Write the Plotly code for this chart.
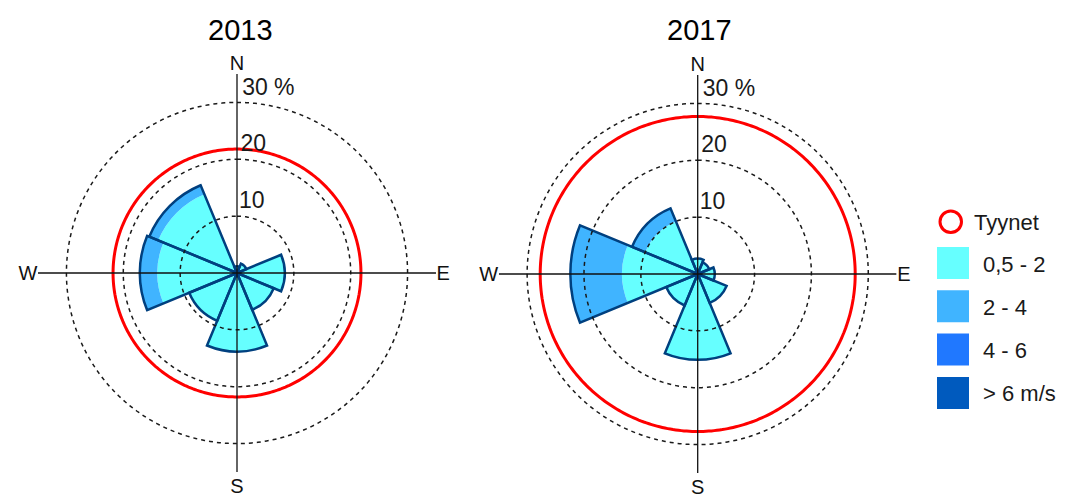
import numpy as np
import plotly.graph_objects as go

# Wind direction sectors (degrees, clockwise from north)
directions = ["N", "NE", "E", "SE", "S", "SW", "W", "NW"]
sector_deg = [0, 45, 90, 135, 180, 225, 270, 315]
sector_width = 45

# Wind speed classes and their fill colours
speed_classes = ["0,5 - 2", "2 - 4", "4 - 6", "> 6 m/s"]
class_colors = ["#66FFFF", "#40B4FF", "#2078FF", "#005ABE"]
outline_color = "#00407F"

# Frequencies (%) per sector and speed class
freq_2013_c1 = [1.2, 1.8, 8.4, 7.0, 13.8, 9.1, 14.0, 15.0]
freq_2013_c2 = [0.0, 0.0, 0.0, 0.0, 0.0, 0.0, 3.1, 1.7]
freq_2013_c3 = [0.0, 0.0, 0.0, 0.0, 0.0, 0.0, 0.0, 0.0]
freq_2013_c4 = [0.0, 0.0, 0.0, 0.0, 0.0, 0.0, 0.0, 0.0]

freq_2017_c1 = [2.7, 2.2, 3.0, 5.5, 15.1, 6.0, 13.3, 10.0]
freq_2017_c2 = [0.0, 0.0, 0.0, 0.0, 0.0, 0.0, 9.1, 2.5]
freq_2017_c3 = [0.0, 0.0, 0.0, 0.0, 0.0, 0.0, 0.0, 0.0]
freq_2017_c4 = [0.0, 0.0, 0.0, 0.0, 0.0, 0.0, 0.0, 0.0]

# Calm share (%) shown as a red circle
calm_2013 = 21.8
calm_2017 = 27.7

# Reference rings and their labels
ring_values = [10, 20, 30]
ring_labels = ["10", "20", "30 %"]
compass_vals = [0, 90, 180, 270]
compass_text = ["N", "E", "S", "W"]
radial_max = 35

years = ["2013", "2017"]
roses = {
    "2013": dict(classes=[freq_2013_c1, freq_2013_c2, freq_2013_c3, freq_2013_c4], calm=calm_2013),
    "2017": dict(classes=[freq_2017_c1, freq_2017_c2, freq_2017_c3, freq_2017_c4], calm=calm_2017),
}

W, H = 1065, 496
FONT = "Liberation Sans, Arial, sans-serif"


def px_x(x):
    return x / W


def px_y(y):
    return (H - y) / H


fig = go.Figure()
full_circle = np.linspace(0, 360, 361)

subplots = ["polar", "polar2"]
for year, sp in zip(years, subplots):
    data = roses[year]
    classes = [np.array(c) for c in data["classes"]]
    base = np.zeros(len(sector_deg))
    # stacked speed-class segments
    for vals, color, name in zip(classes, class_colors, speed_classes):
        fig.add_trace(go.Barpolar(
            r=vals, base=base.copy(), theta=sector_deg, width=sector_width,
            marker=dict(color=color, line=dict(width=0)),
            name=name, showlegend=False, subplot=sp, hoverinfo="skip",
        ))
        base = base + vals
    totals = base
    # sector outlines around the whole stack
    fig.add_trace(go.Barpolar(
        r=totals, theta=sector_deg, width=sector_width,
        marker=dict(color="rgba(0,0,0,0)", line=dict(color=outline_color, width=2.5)),
        showlegend=False, subplot=sp, hoverinfo="skip",
    ))
    # dashed reference rings
    for rv in ring_values:
        fig.add_trace(go.Scatterpolar(
            r=[rv] * len(full_circle), theta=full_circle, mode="lines",
            line=dict(color="#1a1a1a", width=1.5, dash="4px,4px"),
            showlegend=False, subplot=sp, hoverinfo="skip",
        ))
    # calm circle
    fig.add_trace(go.Scatterpolar(
        r=[data["calm"]] * len(full_circle), theta=full_circle, mode="lines",
        line=dict(color="#FF0000", width=3),
        showlegend=False, subplot=sp, hoverinfo="skip",
    ))
    # compass cross
    for a, b in [(0, 180), (90, 270)]:
        fig.add_trace(go.Scatterpolar(
            r=[radial_max, 0, radial_max], theta=[a, a, b], mode="lines",
            line=dict(color="#111111", width=1.3),
            showlegend=False, subplot=sp, hoverinfo="skip",
        ))
    # ring labels beside the north axis
    fig.add_trace(go.Scatterpolar(
        r=[rv + 2.4 for rv in ring_values], theta=[1.6] * len(ring_values),
        mode="text", text=ring_labels, textposition="middle right",
        textfont=dict(family=FONT, size=23, color="#1a1a1a"),
        showlegend=False, subplot=sp, hoverinfo="skip",
    ))


def polar_layout(cx, cy, rad):
    return dict(
        domain=dict(x=[px_x(cx - rad), px_x(cx + rad)], y=[px_y(cy + rad), px_y(cy - rad)]),
        bgcolor="rgba(0,0,0,0)",
        barmode="overlay",
        radialaxis=dict(visible=False, range=[0, radial_max]),
        angularaxis=dict(
            direction="clockwise", rotation=90, thetaunit="degrees",
            tickmode="array", tickvals=compass_vals, ticktext=compass_text,
            showgrid=False, showline=False, ticks="",
            tickfont=dict(family=FONT, size=20, color="#111111"),
        ),
    )


annotations = [
    dict(x=px_x(240), y=px_y(30), xref="paper", yref="paper", text="2013",
         xanchor="center", yanchor="middle", showarrow=False,
         font=dict(family=FONT, size=29, color="black")),
    dict(x=px_x(699), y=px_y(30), xref="paper", yref="paper", text="2017",
         xanchor="center", yanchor="middle", showarrow=False,
         font=dict(family=FONT, size=29, color="black")),
]

# legend drawn by hand
shapes = []
shapes.append(dict(type="circle", xref="paper", yref="paper",
                   x0=px_x(940), x1=px_x(961.5), y0=px_y(232.5), y1=px_y(211),
                   line=dict(color="#FF0000", width=3)))
annotations.append(dict(x=px_x(972), y=px_y(222), xref="paper", yref="paper", text="Tyynet",
                        xanchor="left", yanchor="middle", showarrow=False,
                        font=dict(family=FONT, size=22, color="#1a1a1a")))
for i, (name, color) in enumerate(zip(speed_classes, class_colors)):
    top = 247 + i * 43.3
    shapes.append(dict(type="rect", xref="paper", yref="paper",
                       x0=px_x(937), x1=px_x(969), y0=px_y(top + 32), y1=px_y(top),
                       fillcolor=color, line=dict(width=0)))
    annotations.append(dict(x=px_x(981), y=px_y(top + 17), xref="paper", yref="paper",
                            text=name, xanchor="left", yanchor="middle", showarrow=False,
                            font=dict(family=FONT, size=22, color="#1a1a1a")))

fig.update_layout(
    width=W, height=H,
    margin=dict(l=0, r=0, t=0, b=0),
    paper_bgcolor="white", plot_bgcolor="white",
    polar=polar_layout(237, 273, 199),
    polar2=polar_layout(697.7, 274, 199),
    annotations=annotations,
    shapes=shapes,
    showlegend=False,
)

fig.write_html("out.html")
